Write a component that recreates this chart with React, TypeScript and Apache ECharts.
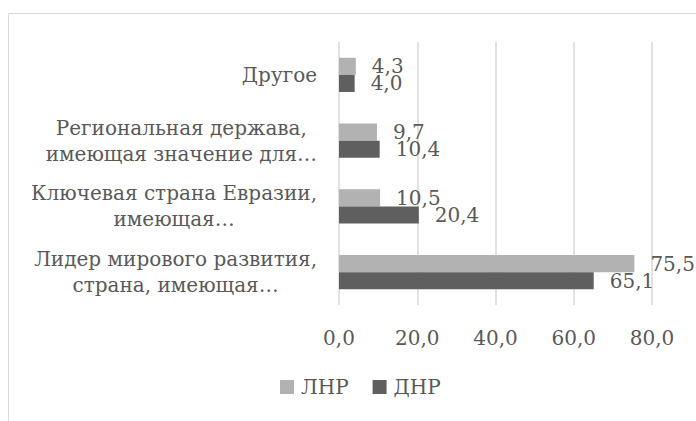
import React, { useEffect, useRef } from "react";
import * as echarts from "echarts";

const categories = [
  "Лидер мирового развития,\nстрана, имеющая…",
  "Ключевая страна Евразии,\nимеющая…",
  "Региональная держава,\nимеющая значение для…",
  "Другое",
];
const seriesNames = ["ЛНР", "ДНР"];
const lnrValues = [75.5, 10.5, 9.7, 4.3];
const dnrValues = [65.1, 20.4, 10.4, 4.0];
const xTicks = { min: 0, max: 80, interval: 20 };

const FONT = "DejaVu Serif";
const TEXT = "#595959";
const FS = 20;

export default function App() {
  const ref = useRef<HTMLDivElement>(null);
  useEffect(() => {
    const chart = echarts.init(ref.current!, null, { renderer: "svg" });
    const fmt = (v: number) => v.toFixed(1).replace(".", ",");
    const labelStyle = {
      show: true,
      position: "right",
      distance: 16,
      fontFamily: FONT,
      fontSize: FS,
      color: TEXT,
      formatter: (p: any) => fmt(p.value),
    };
    chart.setOption({
      animation: false,
      backgroundColor: "#ffffff",
      textStyle: { fontFamily: FONT, color: TEXT },
      graphic: [
        {
          type: "rect",
          shape: { x: 8.5, y: 13.5, width: 700, height: 420 },
          style: { fill: "none", stroke: "#d9d9d9", lineWidth: 1 },
          silent: true,
        },
      ],
      grid: { left: 339, right: 44, top: 42, bottom: 116, containLabel: false },
      legend: {
        bottom: 19,
        left: 275,
        itemWidth: 14,
        itemHeight: 14,
        itemGap: 24,
        icon: "rect",
        textStyle: { fontFamily: FONT, fontSize: FS, color: TEXT, padding: [0, 0, 0, 2] },
        data: seriesNames,
      },
      xAxis: {
        type: "value",
        min: xTicks.min,
        max: xTicks.max,
        interval: xTicks.interval,
        axisLine: { show: false },
        axisTick: { show: false },
        splitLine: { show: true, lineStyle: { color: "#d9d9d9", width: 1.5 } },
        axisLabel: {
          fontFamily: FONT,
          fontSize: FS,
          color: TEXT,
          margin: 23,
          formatter: (v: number) => fmt(v),
        },
      },
      yAxis: {
        type: "category",
        data: categories,
        axisLine: { show: false },
        axisTick: { show: false },
        axisLabel: {
          margin: 22,
          align: "right",
          color: TEXT,
          fontFamily: FONT,
          fontSize: FS,
          lineHeight: 26,
          formatter: (v: string) =>
            v
              .split("\n")
              .map((l) => `{c|${l}}`)
              .join("\n"),
          rich: {
            c: { align: "center", fontFamily: FONT, fontSize: FS, lineHeight: 26, color: TEXT },
          },
        },
      },
      series: [
        {
          name: seriesNames[0],
          type: "bar",
          data: lnrValues,
          barGap: "0%",
          barCategoryGap: "48%",
          itemStyle: { color: "#b2b2b2" },
          label: labelStyle,
        },
        {
          name: seriesNames[1],
          type: "bar",
          data: dnrValues,
          barGap: "0%",
          barCategoryGap: "48%",
          itemStyle: { color: "#5f5f5f" },
          label: labelStyle,
        },
      ],
    });
    return () => chart.dispose();
  }, []);
  return (
    <div
      ref={ref}
      style={{ position: "fixed", left: 0, top: 0, width: 696, height: 421 }}
    />
  );
}
